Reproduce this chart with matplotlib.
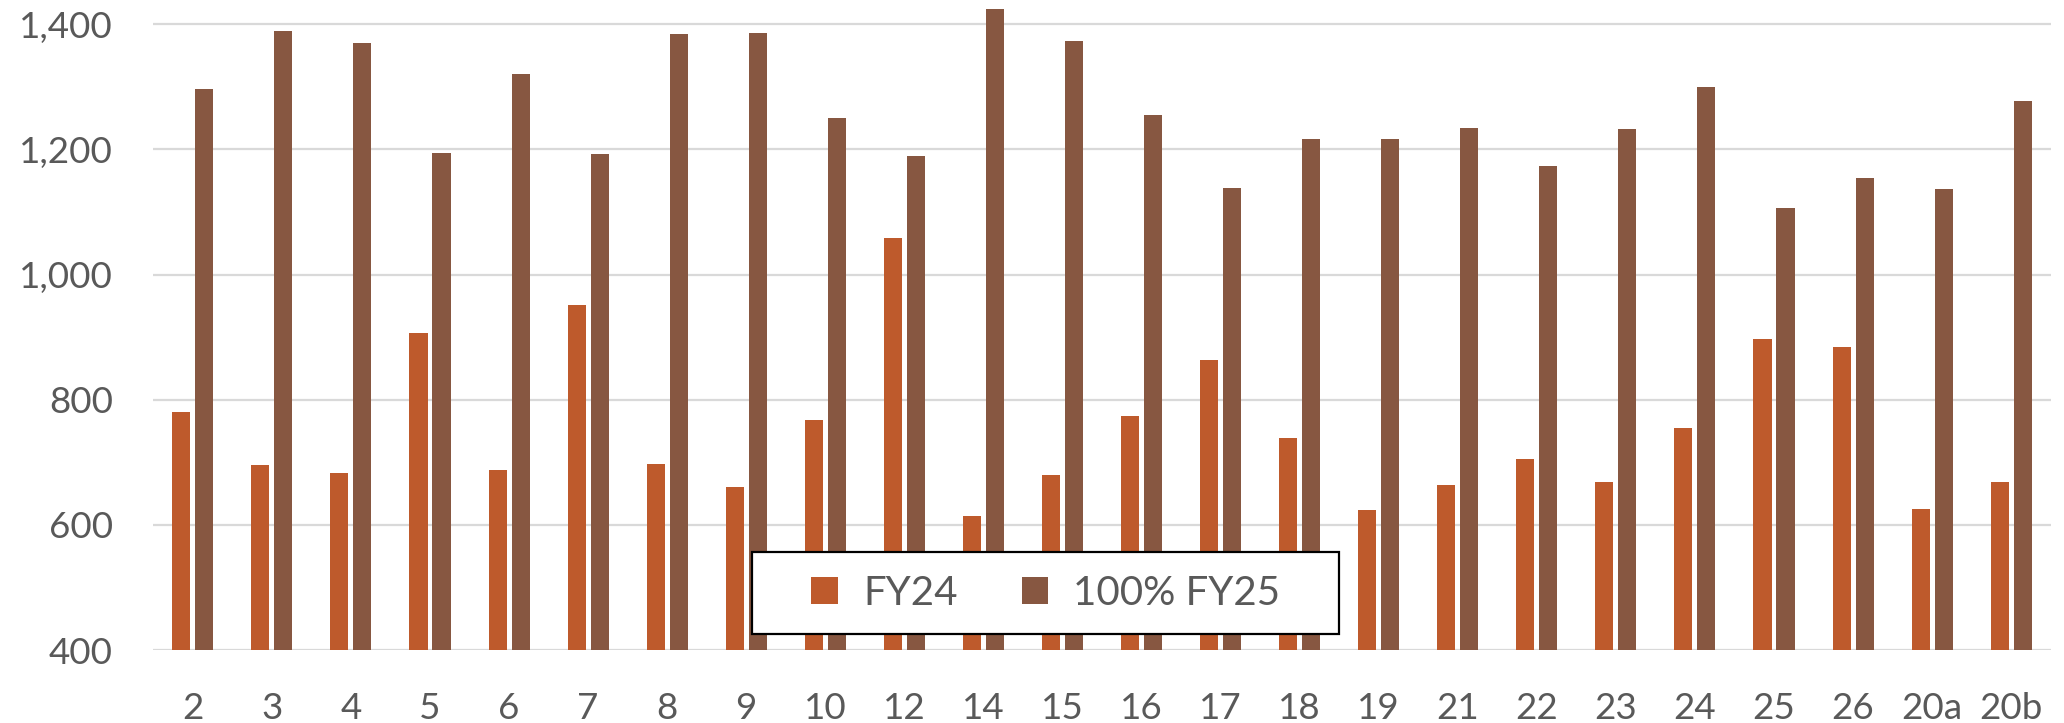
import numpy as np
import matplotlib.pyplot as plt
from matplotlib.patches import Rectangle

# Sites along the x axis and the two series
sites = ['2', '3', '4', '5', '6', '7', '8', '9', '10', '12', '14', '15', '16', '17',
         '18', '19', '21', '22', '23', '24', '25', '26', '20a', '20b']
fy24 = [781, 695, 683, 907, 688, 951, 698, 660, 768, 1058, 614, 680, 774, 863,
        739, 624, 664, 706, 668, 755, 897, 884, 625, 668]
fy25 = [1297, 1389, 1370, 1194, 1321, 1193, 1385, 1386, 1250, 1189, 1424, 1374, 1255, 1139,
        1216, 1216, 1234, 1173, 1233, 1299, 1106, 1154, 1137, 1278]
y_ticks = [400, 600, 800, 1000, 1200, 1400]

plt.rcParams['font.family'] = ['Lato', 'DejaVu Sans']
grey = '#595959'

fig = plt.figure(figsize=(20.64, 7.23), dpi=100)
ax = fig.add_axes([153.3 / 2064, 1 - 650 / 723, (2050.7 - 153.3) / 2064, 650 / 723])

x = np.arange(len(sites))
w = 0.228
off = 0.1455
ax.bar(x - off, fy24, width=w, color='#BE5A2C', label='FY24', zorder=3)
ax.bar(x + off, fy25, width=w, color='#875741', label='100% FY25', zorder=3)

ax.set_xlim(-0.5, len(sites) - 0.5)
ax.set_ylim(400, 400 + 650 / 0.6257)
ax.set_yticks(y_ticks)
ax.set_yticklabels([f'{v:,}' for v in y_ticks])
ax.set_xticks(x)
ax.set_xticklabels(sites)

ax.yaxis.grid(True, color='#D9D9D9', linewidth=1.6, zorder=0)
ax.set_axisbelow(True)
for s in ax.spines.values():
    s.set_visible(False)
ax.tick_params(axis='both', length=0, labelsize=26.5, labelcolor=grey)
ax.tick_params(axis='y', pad=29)
ax.tick_params(axis='x', pad=30)

# legend box in the lower middle of the plot
leg = fig.legend(loc='center', bbox_to_anchor=(1046 / 2064, 1 - 593.3 / 723), ncol=2,
                 frameon=False, fontsize=29, handlelength=0.66, handleheight=0.66,
                 handletextpad=0.62, columnspacing=1.6, labelcolor=grey)
fig.patches.append(Rectangle((751.7 / 2064, 1 - 634.3 / 723), 587.6 / 2064, 82.6 / 723,
                             transform=fig.transFigure, facecolor='white',
                             edgecolor='black', linewidth=1.6, zorder=4))
leg.set_zorder(5)

fig.savefig('out.png', dpi=100)
